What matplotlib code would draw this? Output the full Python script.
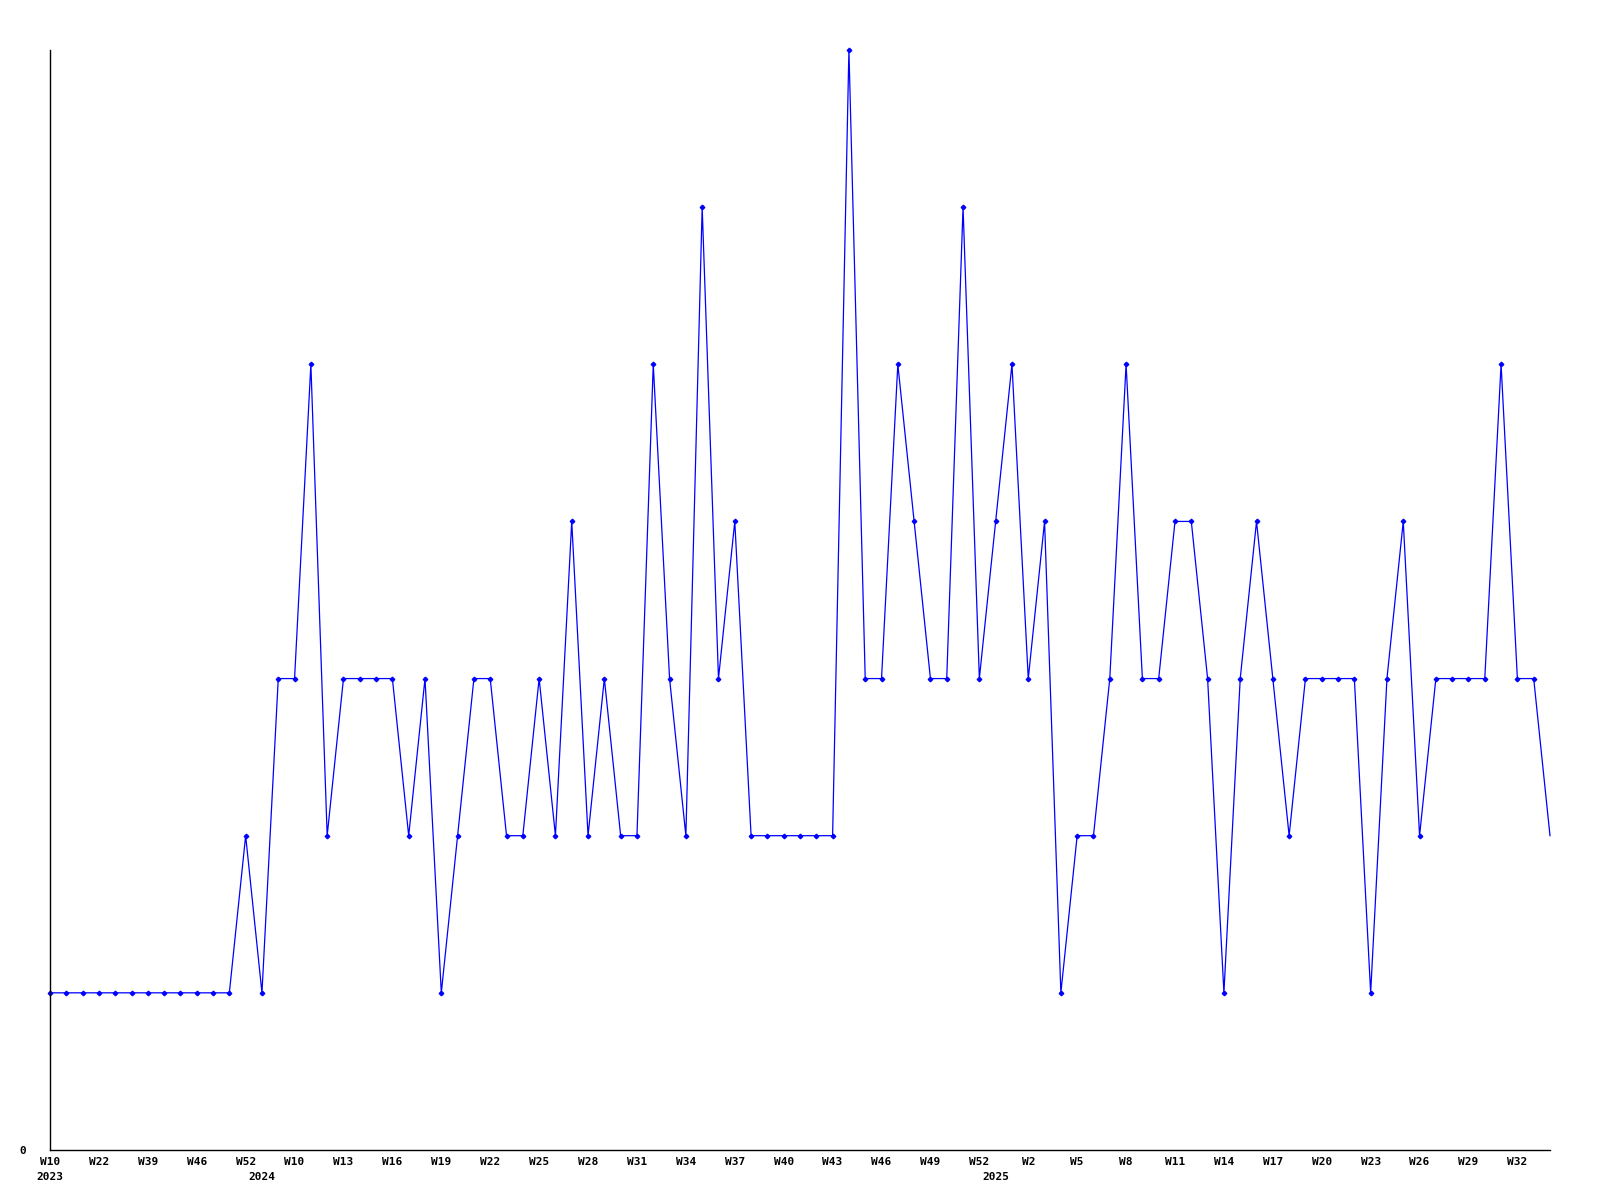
import matplotlib
matplotlib.use("Agg")
import matplotlib.pyplot as plt

# weekly counts, 2023 W10 .. 2025 W34
weeks_2023 = ["W10", "W14", "W18", "W22", "W27", "W33", "W39", "W41", "W44",
              "W46", "W48", "W50", "W52"]
weeks_2024 = ["W1", "W6", "W10", "W11", "W12", "W13", "W14", "W15", "W16",
              "W17", "W18", "W19", "W20", "W21", "W22", "W23", "W24", "W25",
              "W26", "W27", "W28", "W29", "W30", "W31", "W32", "W33", "W34",
              "W35", "W36", "W37", "W38", "W39", "W40", "W41", "W42", "W43",
              "W44", "W45", "W46", "W47", "W48", "W49", "W50", "W51", "W52"]
weeks_2025 = ["W0", "W1", "W2", "W3", "W4", "W5", "W6", "W7", "W8", "W9",
              "W10", "W11", "W12", "W13", "W14", "W15", "W16", "W17", "W18",
              "W19", "W20", "W21", "W22", "W23", "W24", "W25", "W26", "W27",
              "W28", "W29", "W30", "W31", "W32", "W33", "W34"]
years = ["2023", "2024", "2025"]

counts = [1, 1, 1, 1, 1, 1, 1, 1, 1, 1, 1, 1, 2,
          1, 3, 3, 5, 2, 3, 3, 3, 3, 2, 3, 1, 2, 3, 3, 2, 2, 3, 2, 4, 2, 3,
          2, 2, 5, 3, 2, 6, 3, 4, 2, 2, 2, 2, 2, 2, 7, 3, 3, 5, 4, 3, 3, 6, 3,
          4, 5, 3, 4, 1, 2, 2, 3, 5, 3, 3, 4, 4, 3, 1, 3, 4, 3, 2, 3, 3, 3, 3,
          1, 3, 4, 2, 3, 3, 3, 3, 5, 3, 3, 2]

weeks = weeks_2023 + weeks_2024 + weeks_2025
x = list(range(len(weeks)))
year_start = [0, len(weeks_2023), len(weeks_2023) + len(weeks_2024)]

fig = plt.figure(figsize=(16, 12), dpi=100)
ax = fig.add_axes([0.03125, 0.0417, 0.9375, 0.9166])

ax.plot(x, counts, color="#0000ff", linewidth=0.9, marker="D", markersize=2.3,
        markevery=list(range(len(x) - 1)), clip_on=False)

ax.set_xlim(0, len(x) - 1)
ax.set_ylim(0, 7)

for s in ["top", "right"]:
    ax.spines[s].set_visible(False)
for s in ["left", "bottom"]:
    ax.spines[s].set_linewidth(1.0)

font = dict(family="DejaVu Sans Mono", weight="bold", size=8)

ax.xaxis.remove_overlapping_locs = False
ax.set_xticks(x[::3])
ax.set_xticklabels(weeks[::3], **font)
ax.set_xticks(year_start, minor=True)
ax.set_xticklabels(years, minor=True, **font)
ax.tick_params(axis="x", which="major", length=0, pad=5)
ax.tick_params(axis="x", which="minor", length=0, pad=16)

ax.set_yticks([0])
ax.set_yticklabels(["0"], **font)
ax.tick_params(axis="y", length=0, pad=17)

fig.savefig("out.png", dpi=100)
